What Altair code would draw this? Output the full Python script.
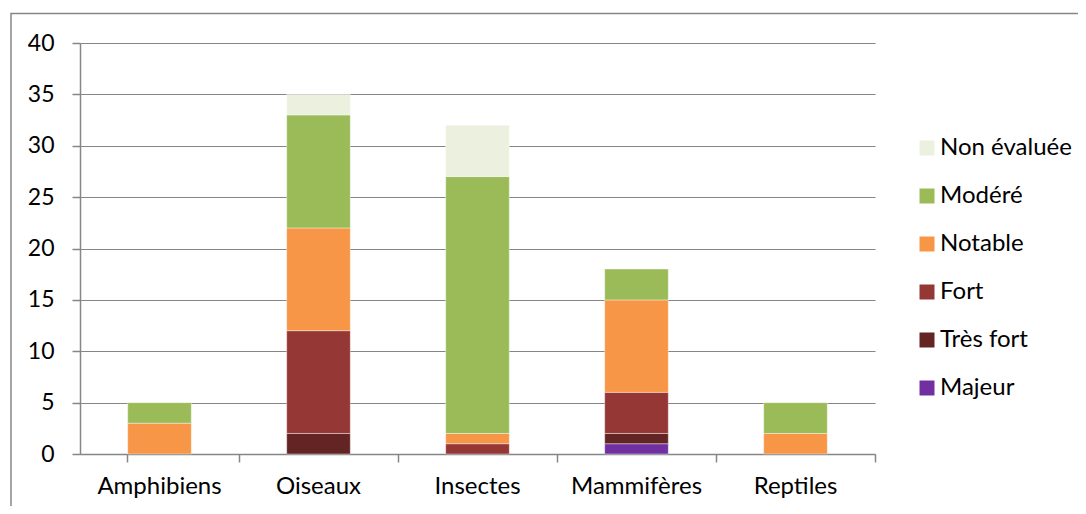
import altair as alt
import pandas as pd

categories = ["Amphibiens", "Oiseaux", "Insectes", "Mammifères", "Reptiles"]
series = ["Majeur", "Très fort", "Fort", "Notable", "Modéré", "Non évaluée"]
majeur = [0, 0, 0, 1, 0]
tres_fort = [0, 2, 0, 1, 0]
fort = [0, 10, 1, 4, 0]
notable = [3, 10, 1, 9, 2]
modere = [2, 11, 25, 3, 3]
non_evaluee = [0, 2, 5, 0, 0]
colors = ["#7030A0", "#632523", "#953735", "#F79646", "#9BBB59", "#EBF1DE"]
y_ticks = [0, 5, 10, 15, 20, 25, 30, 35, 40]

values = [majeur, tres_fort, fort, notable, modere, non_evaluee]
rows = []
for si, (s, vals) in enumerate(zip(series, values)):
    for c, v in zip(categories, vals):
        if v > 0:
            rows.append({"cat": c, "serie": s, "val": v, "rank": si})
df = pd.DataFrame(rows)

legend_order = series[::-1]
legend_colors = colors[::-1]

FONT = "Lato"
GREY = "#868686"

bars = alt.Chart(df).mark_bar(stroke="white", strokeWidth=0.4).encode(
    x=alt.X("cat:N", sort=categories, title=None,
            scale=alt.Scale(paddingInner=0.6, paddingOuter=0.3),
            axis=alt.Axis(labelAngle=0, ticks=True, bandPosition=1.75, tickExtra=True,
                          tickSize=8, tickColor=GREY, tickWidth=1.5, domainColor=GREY,
                          domainWidth=1.5, labelPadding=12,
                          labelFontSize=24, labelColor="#000000", labelFont=FONT,
                          grid=False)),
    y=alt.Y("sum(val):Q", title=None, stack="zero",
            scale=alt.Scale(domain=[0, 40], nice=False),
            axis=alt.Axis(values=y_ticks, tickSize=8, tickColor=GREY, tickWidth=1.5,
                          domainColor=GREY, domainWidth=1.5, gridColor=GREY,
                          gridWidth=1.2, grid=True,
                          labelPadding=18, labelFontSize=23, labelColor="#000000",
                          labelFont=FONT)),
    color=alt.Color("serie:N", title=None,
                    scale=alt.Scale(domain=legend_order, range=legend_colors),
                    legend=alt.Legend(orient="none", legendX=835, legendY=93,
                                      symbolType="square", symbolSize=225,
                                      symbolStrokeWidth=0, labelFontSize=24,
                                      labelFont=FONT, labelColor="#000000",
                                      labelOffset=1, rowPadding=24, padding=0)),
    order=alt.Order("rank:Q", sort="ascending"),
)

border = alt.Chart(alt.Data(values=[{"a": 1}])).mark_rect(
    fill="transparent", stroke=GREY, strokeWidth=1.5, clip=False
).encode(
    x=alt.value(-69), x2=alt.value(1200), y=alt.value(-29.5), y2=alt.value(700)
)

chart = alt.layer(border, bars).properties(
    width=795, height=411,
    autosize=alt.AutoSizeParams(type="none"),
    padding={"left": 72, "top": 35, "right": 203, "bottom": 52},
).configure(
    background="white",
    view=alt.ViewConfig(stroke="transparent", strokeWidth=0),
)

chart.save("out.html", embed_options={"renderer": "svg", "actions": False})
